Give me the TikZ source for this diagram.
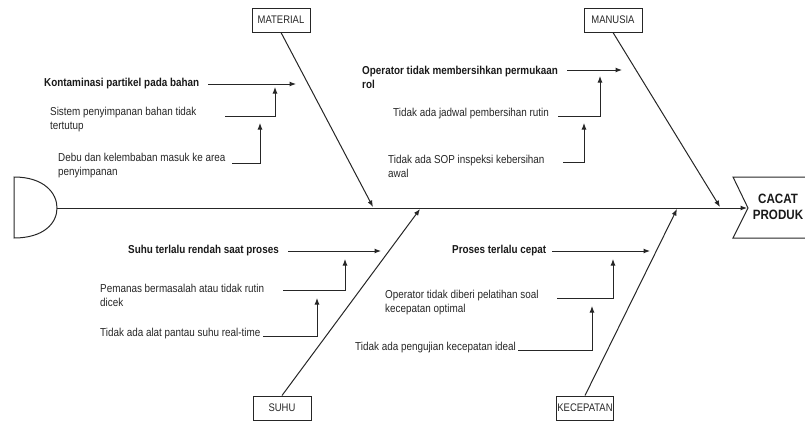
\documentclass[tikz,border=0pt]{standalone}
\usepackage{fontspec}
\setmainfont[FakeStretch=0.86]{Liberation Sans}
\usetikzlibrary{arrows.meta}
\tikzset{
  ln/.style={line width=1pt, draw=black!85},
  arr/.style={ln, -{Latex[length=6.5pt,width=5pt]}},
  catbox/.style={draw=black!85, line width=1pt, minimum width=58pt, minimum height=24pt, inner sep=1pt, font=\fontsize{11}{13}\selectfont, text=black!85},
  mainc/.style={anchor=west, inner sep=0pt, font=\bfseries\fontsize{11.5}{14}\selectfont, align=left, text=black!90},
  subc/.style={anchor=west, inner sep=0pt, font=\fontsize{11.5}{14}\selectfont, align=left, text=black!85},
}
\begin{document}
\begin{tikzpicture}[x=1pt,y=-1pt]
\useasboundingbox (0,0) rectangle (805,421);
% tail
\draw[ln] (14,177) .. controls (44,177) and (57,193) .. (57,208) .. controls (57,223) and (44,238) .. (14,238) -- cycle;
\coordinate (tail) at (57,208);
% head
\draw[ln] (733,177) -- (806,177) -- (806,238) -- (733,238) -- (748,208) -- cycle;
\coordinate (notch) at (747,208);
\node[font=\bfseries\fontsize{13.5}{16}\selectfont, align=center, text=black!90] (head) at (778,207) {CACAT\\PRODUK};
\draw[arr] (tail) -- (notch);
% category boxes
\node[catbox] (mat) at (281,20) {MATERIAL};
\node[catbox] (man) at (613,20) {MANUSIA};
\node[catbox] (suhu) at (282,408) {SUHU};
\node[catbox, minimum width=56pt] (kec) at (585,408) {KECEPATAN};
\coordinate (matE) at (373,207);
\coordinate (manE) at (720,207);
\coordinate (suhuE) at (420,209);
\coordinate (kecE) at (677,209);
\draw[arr] (mat.south) -- (matE);
\draw[arr] (man.south) -- (manE);
\draw[arr] (suhu.north) -- (suhuE);
\draw[arr] (kec.north) -- (kecE);
% MATERIAL causes
\node[mainc] (m1) at (44,84) {Kontaminasi partikel pada bahan};
\coordinate (m1a) at (208,84); \coordinate (m1b) at (296,84);
\draw[arr] (m1a) -- (m1b);
\node[subc] (m2) at (50,120) {Sistem penyimpanan bahan tidak\\tertutup};
\coordinate (m2a) at (225,116); \coordinate (m2b) at (275,87);
\draw[arr] (m2a) -| (m2b);
\node[subc] (m3) at (58,166) {Debu dan kelembaban masuk ke area\\penyimpanan};
\coordinate (m3a) at (232,163); \coordinate (m3b) at (260,123);
\draw[arr] (m3a) -| (m3b);
% MANUSIA causes
\node[mainc] (h1) at (362,77) {Operator tidak membersihkan permukaan\\rol};
\coordinate (h1a) at (567,70); \coordinate (h1b) at (622,70);
\draw[arr] (h1a) -- (h1b);
\node[subc] (h2) at (393,114) {Tidak ada jadwal pembersihan rutin};
\coordinate (h2a) at (558,116); \coordinate (h2b) at (600,76);
\draw[arr] (h2a) -| (h2b);
\node[subc] (h3) at (388,166) {Tidak ada SOP inspeksi kebersihan\\awal};
\coordinate (h3a) at (563,162); \coordinate (h3b) at (584,123);
\draw[arr] (h3a) -| (h3b);
% SUHU causes
\node[mainc] (s1) at (128,251) {Suhu terlalu rendah saat proses};
\coordinate (s1a) at (288,251); \coordinate (s1b) at (381,251);
\draw[arr] (s1a) -- (s1b);
\node[subc] (s2) at (100,295) {Pemanas bermasalah atau tidak rutin\\dicek};
\coordinate (s2a) at (283,290); \coordinate (s2b) at (345,259);
\draw[arr] (s2a) -| (s2b);
\node[subc] (s3) at (100,334) {Tidak ada alat pantau suhu real-time};
\coordinate (s3a) at (263,336); \coordinate (s3b) at (317,298);
\draw[arr] (s3a) -| (s3b);
% KECEPATAN causes
\node[mainc] (k1) at (452,251) {Proses terlalu cepat};
\coordinate (k1a) at (552,251); \coordinate (k1b) at (650,251);
\draw[arr] (k1a) -- (k1b);
\node[subc] (k2) at (385,303) {Operator tidak diberi pelatihan soal\\kecepatan optimal};
\coordinate (k2a) at (557,298); \coordinate (k2b) at (613,259);
\draw[arr] (k2a) -| (k2b);
\node[subc] (k3) at (355,348) {Tidak ada pengujian kecepatan ideal};
\coordinate (k3a) at (518,350); \coordinate (k3b) at (592,306);
\draw[arr] (k3a) -| (k3b);
\end{tikzpicture}
\end{document}
